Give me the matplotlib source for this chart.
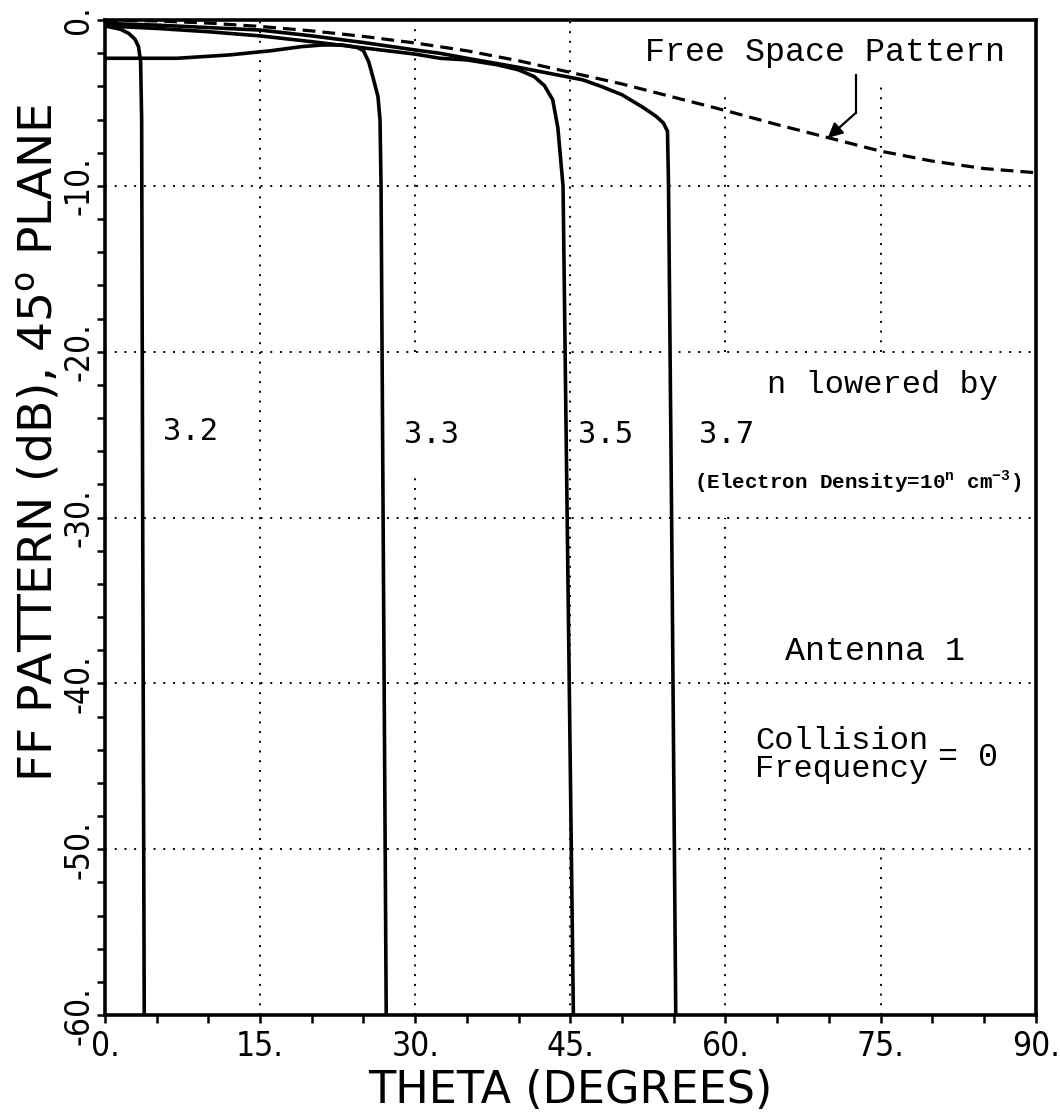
import matplotlib
matplotlib.use("Agg")
import matplotlib.pyplot as plt
from matplotlib.font_manager import FontProperties
from matplotlib.ticker import MultipleLocator, FuncFormatter

plt.rcParams["axes.unicode_minus"] = False
plt.rcParams["mathtext.fontset"] = "custom"
plt.rcParams["mathtext.rm"] = "DejaVu Sans"
plt.rcParams["mathtext.tt"] = "Liberation Mono:bold"

# Free-space pattern (dashed reference)
theta_free = [0, 5, 10, 15, 20, 25, 30, 35, 40, 45, 50, 55, 60, 65, 70, 75, 80, 85, 90]
db_free = [0, -0.05, -0.18, -0.38, -0.65, -0.98, -1.38, -1.85, -2.45, -3.15,
           -3.85, -4.65, -5.45, -6.3, -7.1, -7.9, -8.5, -8.95, -9.2]

# Patterns with n lowered by 3.2, 3.3, 3.5, 3.7
theta_32 = [0, 1.5, 2.3, 2.9, 3.25, 3.45, 3.55, 3.65, 3.8]
db_32 = [-0.35, -0.55, -0.8, -1.15, -1.6, -2.5, -6, -30, -60]

theta_33 = [0, 7, 12, 16, 19, 21, 23, 24.4, 25.0, 25.5, 25.9, 26.4, 26.6, 26.7, 26.9, 27.2]
db_33 = [-2.3, -2.3, -2.1, -1.85, -1.6, -1.5, -1.5, -1.65, -1.85, -2.5, -3.4, -4.6,
         -6, -10, -30, -60]

theta_35 = [0, 5, 10, 15, 20, 22, 26, 30, 32.4, 35, 38, 40, 41.5, 42.5, 43.3, 43.8,
            44.3, 44.7, 45.3]
db_35 = [-0.35, -0.5, -0.7, -0.95, -1.3, -1.45, -1.75, -2.05, -2.3, -2.4, -2.7, -3.0,
         -3.4, -3.95, -4.8, -6.5, -10, -30, -60]

theta_37 = [0, 5, 10, 15, 20, 25, 30, 32.4, 35, 40, 46.2, 48, 50, 52, 53.3, 54.0,
            54.4, 54.5, 54.8, 55.2]
db_37 = [-0.2, -0.3, -0.45, -0.6, -0.95, -1.35, -1.8, -2.0, -2.3, -2.85, -3.6, -4.0,
         -4.5, -5.25, -5.8, -6.2, -6.7, -10, -30, -60]

# Curve labels
curve_labels = ["3.2", "3.3", "3.5", "3.7"]
label_theta = [8.3, 31.6, 48.4, 60.1]
label_db = [-24.8, -25.0, -25.0, -25.0]

x_ticks = [0, 15, 30, 45, 60, 75, 90]
y_ticks = [0, -10, -20, -30, -40, -50, -60]

# Dotted grid, interrupted where annotations sit
v_grid = {15: [(-60, 0)], 30: [(-60, -27.3), (-20, 0)], 45: [(-60, 0)],
          60: [(-60, -30), (-20, -4.4)], 75: [(-60, -49.5), (-20, -3.9)]}
h_grid = [-10, -20, -30, -40, -50]

fig = plt.figure(figsize=(10.6, 11.18), dpi=100)
ax = fig.add_axes([0.099, 0.092, 0.878, 0.890])

grid_style = dict(color="black", lw=1.4, ls=(0, (1, 4)), zorder=1)
for xv, spans in v_grid.items():
    for y0, y1 in spans:
        ax.plot([xv, xv], [y0, y1], **grid_style)
for yv in h_grid:
    ax.plot([0, 90], [yv, yv], **grid_style)

ax.plot(theta_free, db_free, color="black", lw=2.3, ls=(0, (4, 2.2)), zorder=3)
for th, db in [(theta_32, db_32), (theta_33, db_33), (theta_35, db_35), (theta_37, db_37)]:
    ax.plot(th, db, color="black", lw=2.6, solid_joinstyle="round", zorder=4)

ax.set_xlim(0, 90)
ax.set_ylim(-60, 0)

for s in ax.spines.values():
    s.set_linewidth(2.6)

ax.xaxis.set_major_locator(MultipleLocator(15))
ax.xaxis.set_minor_locator(MultipleLocator(5))
ax.yaxis.set_major_locator(MultipleLocator(10))
ax.yaxis.set_minor_locator(MultipleLocator(2))
ax.tick_params(which="both", direction="out", length=6, width=1.8)
ax.tick_params(axis="x", which="major", pad=5)
ax.tick_params(axis="y", which="major", pad=1)

fmt = FuncFormatter(lambda v, p: "%d." % round(v))
ax.xaxis.set_major_formatter(fmt)
ax.yaxis.set_major_formatter(fmt)
ax.set_xticks(x_ticks)
ax.set_yticks(y_ticks)

tick_font = FontProperties(family="DejaVu Sans", stretch="condensed", size=24)
for lab in ax.get_xticklabels():
    lab.set_fontproperties(tick_font)
for lab in ax.get_yticklabels():
    lab.set_fontproperties(tick_font)
    lab.set_rotation(90)
    lab.set_va("center")

ax.set_xlabel("THETA (DEGREES)", fontsize=32, family="DejaVu Sans", labelpad=4)
ax.set_ylabel(r"FF PATTERN (dB), 45$^{\rm o}$ PLANE", fontsize=34,
              family="DejaVu Sans")
ax.yaxis.set_label_coords(-0.045, 0.575)

mono = "Liberation Mono"
ax.text(52.2, -1.93, "Free Space Pattern", family=mono, fontsize=24,
        ha="left", va="center", zorder=5)
ax.plot([72.6, 72.6], [-3.3, -5.6], color="black", lw=1.6, zorder=5)
ax.annotate("", xy=(69.9, -7.1), xytext=(72.6, -5.6),
            arrowprops=dict(arrowstyle="-|>", color="black", lw=1.6,
                            mutation_scale=22, shrinkA=0, shrinkB=0), zorder=5)

for txt, tx, ty in zip(curve_labels, label_theta, label_db):
    ax.text(tx, ty, txt, family="DejaVu Sans Mono", fontsize=22,
            ha="center", va="center", zorder=5)

ax.text(64.0, -22.0, "n lowered by", family=mono, fontsize=23, ha="left", va="center")
ax.text(57.0, -27.9, r"(Electron Density=10$^{\mathtt{n}}$ cm$^{\mathtt{-3}}$)",
        family=mono, fontweight="bold", fontsize=15, ha="left", va="center")
ax.text(65.8, -38.1, "Antenna 1", family=mono, fontsize=24, ha="left", va="center")
ax.text(62.9, -44.3, "Collision\nFrequency", family=mono, fontsize=23,
        ha="left", va="center", linespacing=0.9)
ax.text(80.6, -44.45, "= 0", family=mono, fontsize=24, ha="left", va="center")

fig.savefig("out.png", dpi=100)
